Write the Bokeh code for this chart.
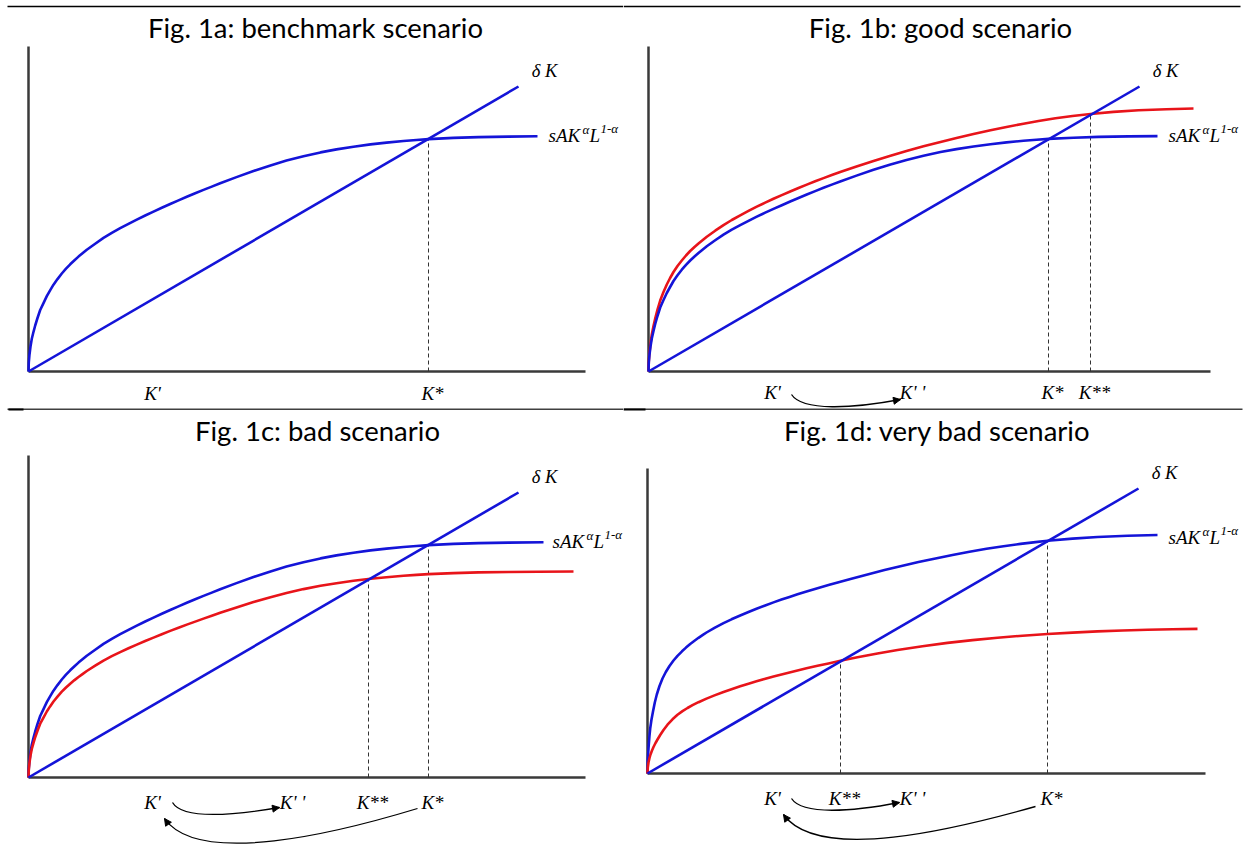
from bokeh.plotting import figure
from bokeh.layouts import column, row
from bokeh.models import Range1d, Arrow, NormalHead
from bokeh.core.properties import value
from bokeh.embed import file_html
from bokeh.resources import INLINE

# ---------------- data (units = K and output) ----------------
TITLES = ["Fig. 1a: benchmark scenario", "Fig. 1b: good scenario",
          "Fig. 1c: bad scenario", "Fig. 1d: very bad scenario"]

# Panel a: benchmark sAK^a L^(1-a) curve
A_BLUE_K = [0, 0.3, 1, 2, 3.3, 5, 6.7, 9, 11.7, 15, 18.3, 21.6, 25, 29, 33.3, 37.5, 41.7, 46, 50, 54,
            58.3, 66.7, 75, 83.3, 91.7, 100, 108.3, 116.7, 125, 133.3, 141.7, 150, 158.3, 166.7, 175, 183.3,
            191.7, 208, 225, 242, 258, 275, 292, 308, 325, 342, 358, 375, 388, 400, 425, 450, 480, 509]
A_BLUE_Y = [0, 9, 17, 25, 32.7, 39.7, 46, 53.5, 61.5, 68.4, 75.4, 81.2, 86.8, 92.4, 98, 102.8, 107.2, 111.3, 114.9, 118.2,
            121.7, 127.8, 133.6, 138.6, 143.3, 147.7, 151.9, 156, 159.9, 163.7, 167.5, 171.1, 174.7, 178.2, 181.6, 184.9,
            188.2, 194.4, 200.5, 206.1, 210.9, 215.3, 219.1, 222.1, 224.8, 227.1, 228.9, 230.5, 231.5, 232.4, 233.6, 234.4, 234.9, 235.2]
A_LINE_K = [0, 490]
A_LINE_Y = [0, 285]

# Panel b
B_BLUE_K = [0, 0.3, 1, 2, 3.3, 5, 6.7, 9, 11.7, 15, 18.3, 21.6, 25, 29, 33.3, 37.5, 41.7, 46, 50, 54,
            58.3, 66.7, 75, 83.3, 91.7, 100, 108.3, 116.7, 125, 133.3, 141.7, 150, 158.3, 166.7, 175, 183.3,
            191.7, 208, 225, 242, 258, 275, 292, 308, 325, 342, 358, 375, 388, 400, 425, 450, 480, 509]
B_BLUE_Y = [0, 9, 17, 25, 33, 40.5, 47.5, 55.5, 64, 71.5, 78.5, 84.5, 90.5, 96.3, 101.8, 106.6, 111, 115, 118.5, 121.8,
            125.2, 131.2, 136.9, 141.8, 146.4, 150.7, 154.8, 158.8, 162.6, 166.3, 170, 173.5, 177, 180.4, 183.7, 186.9,
            190, 195.9, 201.7, 207, 211.6, 215.8, 219.5, 222.4, 225, 227.3, 229.1, 230.7, 231.7, 232.6, 233.8, 234.6, 235.1, 235.4]
B_RED_K = [0, 0.3, 1, 2, 3.3, 5, 6.7, 9, 11.7, 15, 18.3, 21.6, 25, 29, 33.3, 37.5, 41.7, 46, 50, 54,
           58.3, 66.7, 75, 83.3, 91.7, 100, 108.3, 116.7, 125, 133.3, 141.7, 150, 158.3, 166.7, 175, 183.3,
           191.7, 208, 225, 242, 258, 275, 292, 308, 325, 342, 358, 375, 390, 407, 424, 442, 465, 490, 518, 545]
B_RED_Y = [0, 10, 19, 28, 37, 45.5, 53, 62, 71, 79.5, 87, 93.5, 99.5, 105.5, 111, 116, 120.5, 124.5, 128, 131.3,
           134.7, 140.8, 146.4, 151.5, 156.2, 160.6, 164.8, 168.8, 172.7, 176.4, 180, 183.5, 186.9, 190.2, 193.4, 196.5,
           199.5, 205.1, 210.6, 215.7, 220.5, 225.2, 229.6, 233.5, 237.5, 241.2, 244.5, 247.8, 250.5, 253.2, 255.5, 257.5,
           259.6, 261.2, 262.3, 263]
B_LINE_K = [0, 491]
B_LINE_Y = [0, 285]

# Panel c
C_BLUE_K = [0, 0.3, 1, 2, 3.3, 5, 6.7, 9, 11.7, 15, 18.3, 21.6, 25, 29, 33.3, 37.5, 41.7, 46, 50, 54,
            58.3, 66.7, 75, 83.3, 91.7, 100, 108.3, 116.7, 125, 133.3, 141.7, 150, 158.3, 166.7, 175, 183.3,
            191.7, 208, 225, 242, 258, 275, 292, 308, 325, 342, 358, 375, 388, 400, 425, 450, 480, 515]
C_BLUE_Y = [0, 9, 17, 25, 32.7, 39.7, 46, 53.5, 61.5, 68.4, 75.4, 81.2, 86.8, 92.4, 98, 102.8, 107.2, 111.3, 114.9, 118.2,
            121.7, 127.8, 133.6, 138.6, 143.3, 147.7, 151.9, 156, 159.9, 163.7, 167.5, 171.1, 174.7, 178.2, 181.6, 184.9,
            188.2, 194.4, 200.5, 206.1, 210.9, 215.3, 219.1, 222.1, 224.8, 227.1, 228.9, 230.5, 231.5, 232.4, 233.6, 234.4, 234.9, 235.3]
C_RED_K = [0, 0.3, 1, 2, 3.3, 5, 6.7, 9, 11.7, 15, 18.3, 21.6, 25, 29, 33.3, 37.5, 41.7, 46, 50, 54,
           58.3, 66.7, 75, 83.3, 91.7, 100, 108.3, 116.7, 125, 133.3, 141.7, 150, 158.3, 166.7, 175, 183.3,
           191.7, 208, 225, 242, 258, 275, 292, 308, 325, 342, 358, 375, 388, 400, 425, 450, 480, 510, 545]
C_RED_Y = [0, 7.9, 14.9, 21.9, 28.6, 34.6, 40.3, 46.8, 53.8, 59.9, 66, 71.1, 76, 80.9, 85.8, 90, 93.8, 97.4, 100.5, 103.4,
           106.5, 111.8, 116.9, 121.3, 125.4, 129.2, 132.9, 136.5, 139.9, 143.2, 146.6, 149.7, 152.9, 155.9, 158.9, 161.8,
           164.7, 170.1, 175.4, 180.3, 184.5, 188.4, 191.7, 194.3, 196.7, 198.7, 200.3, 201.7, 202.6, 203.4, 204.4, 205.1, 205.5, 205.8, 206]
C_LINE_K = [0, 490]
C_LINE_Y = [0, 285]

# Panel d
D_BLUE_K = [0, 0.3, 1, 2, 2.7, 4, 5.5, 7.3, 9.3, 12, 15, 18.3, 22, 26, 30, 34.5, 38.5, 42.7, 47, 51,
            55, 59, 67, 76, 84, 92.7, 101, 109, 117, 126, 134, 142, 150, 159, 170, 181, 192, 203, 220, 237,
            254, 271, 288, 305, 322, 339, 356, 373, 388, 400, 425, 450, 480, 510]
D_BLUE_Y = [0, 14, 25, 38, 45, 54, 62, 71, 79, 87.5, 95, 101.5, 107.5, 113, 117.7, 122.2, 125.9, 129.5, 132.8, 135.7,
            138.4, 141, 145.7, 150.4, 154.2, 158, 161.5, 164.7, 167.8, 171.1, 173.9, 176.6, 179.2, 182, 185.3, 188.5, 191.6,
            194.6, 199.1, 203.4, 207.5, 211.4, 215.1, 218.6, 221.8, 224.7, 227.3, 229.6, 231.4, 232.7, 234.9, 236.5, 237.8, 238.5]
D_RED_K = [0, 0.3, 1, 2, 3, 4.5, 6, 8, 10, 12.7, 16, 20, 25, 30, 35, 40, 45, 51, 59, 67,
           76, 84, 92.7, 101, 109, 117, 126, 134, 142, 150, 159, 170, 181, 194, 210, 230, 250, 275, 300, 325,
           350, 375, 400, 425, 450, 475, 500, 525, 550]
D_RED_Y = [0, 6, 11, 15.5, 19, 23, 26.5, 30.5, 34, 38.5, 43.5, 48.8, 54.2, 58.7, 62.4, 65.5, 68.3, 71.3, 74.9, 78.1,
           81.5, 84.3, 87.2, 89.8, 92.2, 94.5, 97, 99.1, 101.1, 103.1, 105.2, 107.7, 110.1, 112.9, 116.2, 120, 123.5,
           127.3, 130.6, 133.4, 135.8, 137.8, 139.5, 140.9, 142.1, 143, 143.7, 144.2, 144.6]
D_LINE_K = [0, 491]
D_LINE_Y = [0, 285]

# steady states: (K, output at K, tick label)
A_MARKS = [(400, 233, "K*")]
B_MARKS = [(400, 233, "K*"), (442, 257, "K**")]
C_MARKS = [(400, 233, "K*"), (340, 198, "K**")]
D_MARKS = [(400, 233, "K*"), (193, 113, "K**")]
K_PRIME = [124, 124, 124, 125]
K_DPRIME = [None, 264, 264, 265]
PRIME_LABELS = ["K'", "K' '"]

BLUE = "#1414d8"
RED = "#e8141a"
AXIS = "#3a3a3a"
SERIF = value("Liberation Serif")


def make_fig(xr, yr, w, h):
    p = figure(width=w, height=h, x_range=Range1d(*xr), y_range=Range1d(*yr),
               output_backend="svg", toolbar_location=None, min_border=0,
               x_axis_location=None, y_axis_location=None)
    p.grid.visible = False
    p.outline_line_color = None
    p.background_fill_color = "white"
    p.border_fill_color = "white"
    return p


def klabel(p, x, y, txt, dx=0):
    p.text(x=[x], y=[y], text=[txt], text_font=SERIF, text_font_style="italic",
           text_font_size="19px", text_align="center", text_baseline="middle",
           text_color="black", x_offset=dx)


def panel(title, xr, yr, w, h, yaxis_top, xaxis_end, title_xy, lab_y,
          curves, line_k, line_y, marks, kp, kpp, rule, rule_thick, arrows, fx):
    p = make_fig(xr, yr, w, h)
    # table rule
    ry, rx0, rx1 = rule
    p.segment(x0=[rx0], y0=[ry], x1=[rx1], y1=[ry], line_color="black", line_width=1.5)
    if rule_thick:
        p.segment(x0=[rule_thick[0]], y0=[ry], x1=[rule_thick[1]], y1=[ry],
                  line_color="black", line_width=3)
    # title
    p.text(x=[title_xy[0]], y=[title_xy[1]], text=[title], text_font=value("Lato"),
           text_font_size="27.5px", text_align="center", text_baseline="middle", text_color="black")
    # axes
    p.segment(x0=[0, 0], y0=[0, 0], x1=[0, xaxis_end], y1=[yaxis_top, 0],
              line_color=AXIS, line_width=2.5)
    # dashed guides
    for (k, yk, lab) in marks:
        p.segment(x0=[k], y0=[0], x1=[k], y1=[yk], line_color="#333333",
                  line_width=1, line_dash="4 3")
        klabel(p, k, lab_y, lab, dx=4)
    # curves
    for (kk, yy, col) in curves:
        p.line(kk, yy, line_color=col, line_width=2.6, line_join="round")
    p.line(line_k, line_y, line_color=BLUE, line_width=2.6)
    # curve labels
    lx, ly = line_k[-1], line_y[-1]
    p.text(x=[lx + 26], y=[ly + 16], text=["δ K"], text_font=SERIF, text_font_style="italic",
           text_font_size="18.5px", text_align="center", text_baseline="middle")
    sy = 236
    pieces = [("sAK", 0, 0, "19px"), ("α", 34, -6, "13px"), ("L", 41, 0, "19px"), ("1-α", 52, -7, "13px")]
    for t, xo, yo, fs in pieces:
        p.text(x=[fx], y=[sy], text=[t], text_font=SERIF, text_font_style="italic",
               text_font_size=fs, text_align="left", text_baseline="middle",
               x_offset=xo, y_offset=yo)
    # K' and K''
    klabel(p, kp, lab_y, PRIME_LABELS[0])
    if kpp is not None:
        klabel(p, kpp, lab_y, PRIME_LABELS[1])
    # arrows (cubic curves with a head)
    for (x0, y0, cx0, cy0, cx1, cy1, x1, y1) in arrows:
        p.bezier(x0=[x0], y0=[y0], x1=[x1], y1=[y1], cx0=[cx0], cy0=[cy0], cx1=[cx1], cy1=[cy1],
                 line_color="black", line_width=1.3)
        tx, ty = x1 - cx1, y1 - cy1
        n = (tx * tx + ty * ty) ** 0.5
        p.add_layout(Arrow(end=NormalHead(size=7, fill_color="black", line_color="black"),
                           x_start=x1 - 3 * tx / n, y_start=y1 - 3 * ty / n, x_end=x1, y_end=y1,
                           line_color="black", line_width=1.3))
    return p


pa = panel(TITLES[0], (-28, 595), (-37, 371), 623, 408, 325, 557, (287, 344), -22,
           [(A_BLUE_K, A_BLUE_Y, BLUE)], A_LINE_K, A_LINE_Y, A_MARKS,
           K_PRIME[0], K_DPRIME[0], (365, -21, 595), None, [], 520)

kp, kpp = K_PRIME[1], K_DPRIME[1]
pb = panel(TITLES[1], (-25, 598), (-37, 371), 623, 408, 325, 562, (292, 344), -21,
           [(B_RED_K, B_RED_Y, RED), (B_BLUE_K, B_BLUE_Y, BLUE)], B_LINE_K, B_LINE_Y, B_MARKS,
           kp, kpp, (365, -25, 592), None,
           [(kp + 19, -23, kp + 30, -40, kpp - 60, -37, kpp - 12, -28)], 520)

kp, kpp, ks = K_PRIME[2], K_DPRIME[2], C_MARKS[0][0]
pc = panel(TITLES[2], (-28, 595), (-67, 369), 623, 436, 322, 557, (289, 347), -25,
           [(C_BLUE_K, C_BLUE_Y, BLUE), (C_RED_K, C_RED_Y, RED)], C_LINE_K, C_LINE_Y, C_MARKS,
           kp, kpp, (368.5, -21, 595), (-20, -5),
           [(kp + 20, -25, kp + 30, -42, kpp - 60, -38, kpp - 13, -30),
            (ks - 11, -31, ks - 90, -55, kp + 46, -90, kp + 12, -41)], 524)

kp, kpp, ks = K_PRIME[3], K_DPRIME[3], D_MARKS[0][0]
pd = panel(TITLES[3], (-24, 599), (-71, 365), 623, 436, 305, 558, (290, 343), -25,
           [(D_BLUE_K, D_BLUE_Y, BLUE), (D_RED_K, D_RED_Y, RED)], D_LINE_K, D_LINE_Y, D_MARKS,
           kp, kpp, (364.5, -24, 595), (-24, -2),
           [(kp + 19, -25, kp + 30, -42, kpp - 60, -38, kpp - 13, -29),
            (ks - 12, -33, ks - 90, -55, kp + 46, -90, kp + 11, -41)], 521)

layout = column(row(pa, pb, spacing=0), row(pc, pd, spacing=0), spacing=0)
open("out.html", "w").write(file_html(layout, INLINE))
